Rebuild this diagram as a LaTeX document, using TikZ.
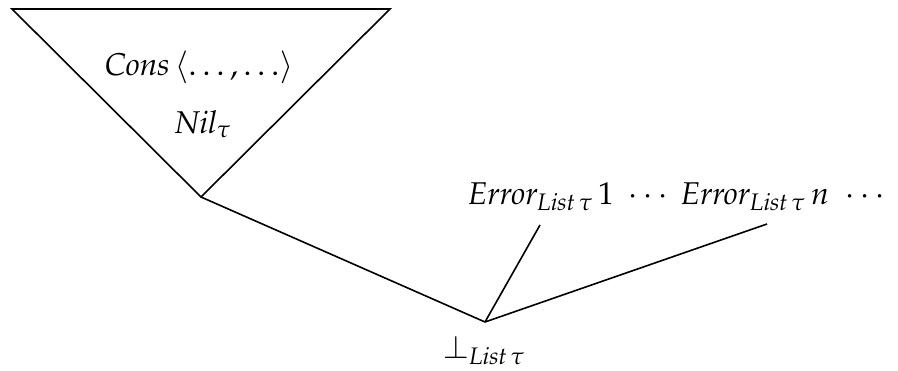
\documentclass[tikz,border=0pt]{standalone}
\usepackage{mathpazo}
\begin{document}
\begin{tikzpicture}[x=1pt,y=-1pt,line width=1.6pt,
  lbl/.style={inner sep=0pt,anchor=base,font=\fontsize{31.5}{38}\selectfont}]
\useasboundingbox (0,0) rectangle (898,370);
\coordinate (tl) at (12,9);
\coordinate (tr) at (390,9);
\coordinate (tb) at (201,197);
\coordinate (bot) at (485,322);
\coordinate (c1) at (540,225);
\coordinate (c2) at (767,224);
\draw[line join=miter] (tl) -- (tr) -- (tb) -- cycle;
\node[lbl] (cons) at (199,75) {$\mathit{Cons}\,\langle\ldots,\ldots\rangle$};
\node[lbl] (nil) at (203,133) {$\mathit{Nil}_\tau$};
\node[lbl] (e1) at (541,204) {$\mathit{Error}_{\mathit{List}\,\tau}\,1$};
\node[lbl] (d1) at (648,204) {$\cdots$};
\node[lbl] (e2) at (755,204) {$\mathit{Error}_{\mathit{List}\,\tau}\,n$};
\node[lbl] (d2) at (865,204) {$\cdots$};
\node[lbl] (bt) at (484,358) {$\bot_{\mathit{List}\,\tau}$};
\draw (tb) -- (bot);
\draw (bot) -- (c1);
\draw (bot) -- (c2);
\end{tikzpicture}
\end{document}
